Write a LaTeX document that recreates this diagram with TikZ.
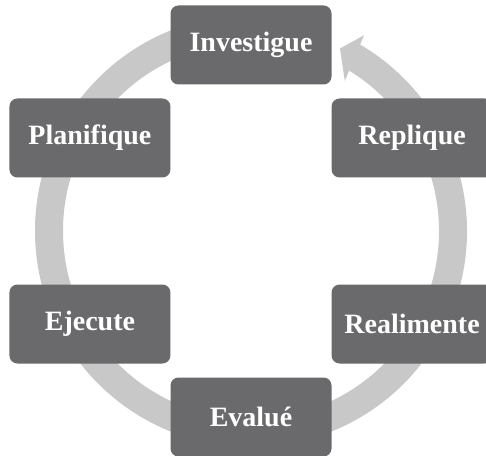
\documentclass[tikz,border=0pt]{standalone}
\usepackage{fontspec}
\setmainfont{Liberation Serif}
\usetikzlibrary{calc}
\definecolor{boxgray}{RGB}{106,106,108}
\definecolor{ringgray}{RGB}{200,200,200}
\begin{document}
\begin{tikzpicture}[x=1pt,y=1pt,
  stepbox/.style={draw=none, fill=boxgray, rounded corners=8pt,
    minimum width=161pt, minimum height=79pt, text=white,
    font=\fontsize{28}{30}\selectfont\bfseries, inner sep=0pt}]
\useasboundingbox (0,0) rectangle (486,455);
\clip (0,0) rectangle (486,455);
\fill[white] (0,0) rectangle (486,455);
\coordinate (C) at (251,224);
% cycle ring with arrow head
\draw[ringgray, line width=28pt] ($(C)+(95:202)$) arc[start angle=95, end angle=420, radius=202];
\fill[ringgray] ($(C)+(64:203)$) -- ($(C)+(60:226)$) -- ($(C)+(58:177)$) -- cycle;
% steps
\node[stepbox] (inv) at ($(C)+(90:186)$) {Investigue};
\node[stepbox] (pla) at ($(C)+(150:186)$) {Planifique};
\node[stepbox] (eje) at ($(C)+(210:186)$) {Ejecute};
\node[stepbox] (eva) at ($(C)+(270:186)$) {Evalué};
\node[stepbox] (rea) at ($(C)+(330:186)$) {Realimente};
\node[stepbox] (rep) at ($(C)+(30:186)$) {Replique};
\end{tikzpicture}
\end{document}
